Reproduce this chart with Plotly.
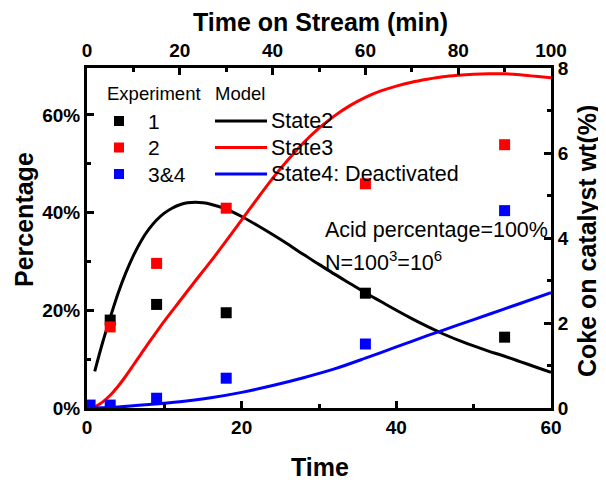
import plotly.graph_objects as go

# ---------------- data ----------------
exp_x = [0.4, 3, 9, 18, 36, 54]
exp1_y = [None, 18.0, 21.2, 19.5, 23.5, 14.5]
exp2_y = [None, 16.6, 29.6, 40.9, 45.9, 53.9]
exp34_y = [0.6, 0.6, 2.0, 6.1, 13.1, 40.4]

s2_x = [1, 2, 3, 4, 5, 6, 7, 8, 9, 10, 11, 12, 13, 14, 15, 16, 18, 20, 22, 24, 26, 28, 30,
        32, 34, 36, 38, 40, 42, 44, 46, 48, 50, 52, 54, 56, 58, 60]
s2_y = [7.5, 13.3, 18.5, 23.4, 27.6, 31.2, 34.2, 36.6, 38.5, 39.9, 40.9, 41.6, 42.0, 42.1, 42.0,
        41.7, 40.7, 39.2, 37.4, 35.5, 33.5, 31.4, 29.4, 27.4, 25.5, 23.6, 21.8, 20.0, 18.3, 16.7,
        15.2, 13.9, 12.7, 11.6, 10.6, 9.5, 8.4, 7.3]

s3_x = [0.8, 2, 3, 4, 5, 6, 7, 8, 9, 10, 12, 14, 16, 18, 20, 22, 24, 26, 28, 30, 32, 34, 36,
        38, 40, 42, 44, 46, 48, 50, 52, 54, 56, 58, 60]
s3_y = [0.0, 1.2, 2.6, 4.4, 6.5, 8.8, 11.1, 13.4, 15.6, 17.8, 21.9, 26.0, 30.0, 34.2, 38.5,
        42.8, 47.0, 50.8, 54.3, 57.3, 59.8, 61.9, 63.6, 64.9, 65.9, 66.7, 67.3, 67.8, 68.1,
        68.3, 68.4, 68.4, 68.2, 67.9, 67.6]

s4_x = [1, 4, 8, 12, 16, 20, 24, 28, 32, 36, 40, 44, 48, 52, 56, 60]
s4_y = [0.0, 0.2, 0.7, 1.3, 2.1, 3.2, 4.6, 6.2, 8.0, 10.2, 12.5, 14.8, 17.0, 19.2, 21.4, 23.6]

x_ticks = [0, 20, 40, 60]
y_ticks = [0, 20, 40, 60]
y_ticktext = ["0%", "20%", "40%", "60%"]
x2_ticks = [0, 20, 40, 60, 80, 100]
y2_ticks = [0, 2, 4, 6, 8]

FONT = "Liberation Sans, Arial, sans-serif"
OFF = 8  # page body margin offset
W, H = 606 - OFF, 480 - OFF
L, R, T, B = 87 - OFF, 551 - OFF, 68 - OFF, 408 - OFF

fig = go.Figure()

for xs, ys, col in [(s2_x, s2_y, "#000000"), (s3_x, s3_y, "#ff0000"), (s4_x, s4_y, "#0000ff")]:
    fig.add_trace(go.Scatter(x=xs, y=ys, mode="lines", line=dict(color=col, width=3, shape="spline", smoothing=0.8),
                             showlegend=False, hoverinfo="skip"))

for ys, col in [(exp1_y, "#000000"), (exp2_y, "#ff0000"), (exp34_y, "#0000ff")]:
    fig.add_trace(go.Scatter(x=exp_x, y=ys, mode="markers",
                             marker=dict(symbol="square", size=11, color=col, line=dict(width=0)),
                             showlegend=False, hoverinfo="skip"))

# empty trace to activate top/right axes
fig.add_trace(go.Scatter(x=[None], y=[None], xaxis="x2", yaxis="y2", showlegend=False, hoverinfo="skip"))

tick_font = dict(family=FONT, size=19, color="black", weight="bold")
title_font = dict(family=FONT, size=25, color="black", weight="bold")
minor = dict(ticks="inside", ticklen=4, tickwidth=3, tickcolor="black")
common = dict(showline=True, linewidth=3, linecolor="black", ticks="inside", ticklen=7,
              tickwidth=3, tickcolor="black", showgrid=False, zeroline=False, tickfont=tick_font,
              automargin=False)

fig.update_layout(
    width=W, height=H,
    margin=dict(l=L, r=W - R, t=T, b=H - B, pad=0),
    paper_bgcolor="white", plot_bgcolor="white",
    showlegend=False,
    xaxis=dict(range=[0, 60], tickvals=x_ticks, **common, minor=dict(dtick=10, **minor)),
    yaxis=dict(range=[0, 69.6], tickvals=y_ticks, ticktext=y_ticktext, **common,
               minor=dict(dtick=10, **minor)),
    xaxis2=dict(range=[0, 100], tickvals=x2_ticks, overlaying="x", side="top", anchor="y", **common,
                minor=dict(dtick=10, **minor)),
    yaxis2=dict(range=[0, 8], tickvals=y2_ticks, overlaying="y", side="right", anchor="x", **common,
                minor=dict(dtick=1, **minor)),
)

# screen-pixel -> paper conversion (screen coords include the page offset)
def px(x):
    return (x - OFF - L) / (R - L)

def py(y):
    return (B - (y - OFF)) / (B - T)

ann = []
def text(x, y, s, size, xanchor="left", angle=0, font=None):
    ann.append(dict(x=px(x), y=py(y), xref="paper", yref="paper", text=s, showarrow=False,
                    xanchor=xanchor, yanchor="middle", textangle=angle,
                    font=font or dict(family=FONT, size=size, color="black")))

# axis titles
text(320, 22, "Time on Stream (min)", 0, "center", font=title_font)
text(320, 467, "Time", 0, "center", font=title_font)
text(24, 220, "Percentage", 0, "center", angle=-90, font=title_font)
text(587, 241, "Coke on catalyst wt(%)", 0, "center", angle=-90, font=title_font)

# legend
text(105, 94, "Experiment", 18.5)
text(213, 94, "Model", 18.5)
labels_exp = ["1", "2", "3&4"]
labels_mod = ["State2", "State3", "State4: Deactivated"]
colors = ["#000000", "#ff0000", "#0000ff"]
rows = [121, 147.5, 174]
shapes = []
for i, yy in enumerate(rows):
    text(146, yy, labels_exp[i], 21)
    text(269, yy, labels_mod[i], 21.5)
    shapes.append(dict(type="rect", xref="paper", yref="paper", x0=px(114), x1=px(124),
                       y0=py(yy + 5), y1=py(yy - 5), fillcolor=colors[i], line=dict(width=0)))
    shapes.append(dict(type="line", xref="paper", yref="paper", x0=px(215), x1=px(267),
                       y0=py(yy), y1=py(yy), line=dict(color=colors[i], width=3)))

text(323, 230, "Acid percentage=100%", 21.5)
text(323, 261, "N=100<sup>3</sup>=10<sup>6</sup>", 21.5)

fig.update_layout(annotations=ann, shapes=shapes)
fig.write_html("out.html")
